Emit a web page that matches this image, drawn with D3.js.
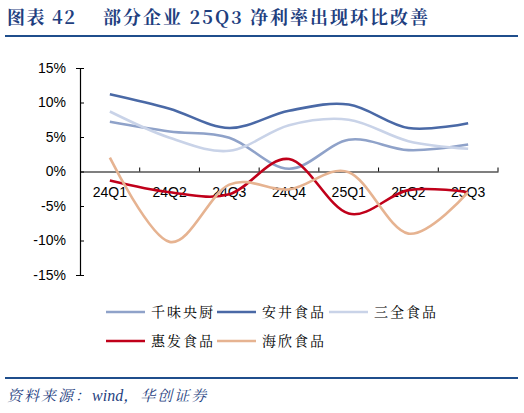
<!DOCTYPE html>
<html>
<head>
<meta charset="utf-8">
<script src="https://cdn.jsdelivr.net/npm/d3@7"></script>
<style>
  body { margin: 0; background: #fff; }
  svg { display: block; }
</style>
</head>
<body>
<div id="chart"></div>
<script>
var quarters = ["24Q1", "24Q2", "24Q3", "24Q4", "25Q1", "25Q2", "25Q3"];
var yTicks = [-15, -10, -5, 0, 5, 10, 15];

var qianwei = [7.2, 5.8, 4.9, 0.4, 4.6, 3.1, 3.9];
var anjing = [11.2, 9.1, 6.3, 8.8, 9.7, 6.3, 7.0];
var sanquan = [8.7, 4.9, 3.0, 6.7, 7.5, 4.4, 3.3];
var huifa = [-1.3, -3.0, -3.3, 1.8, -6.1, -2.7, -3.0];
var haixin = [2.0, -10.2, -1.9, -2.6, -0.1, -9.0, -3.0];

var names = ["千味央厨", "安井食品", "三全食品", "惠发食品", "海欣食品"];
var colors = ["#8FA2C9", "#4A69A6", "#C9D3E8", "#C0001A", "#E6B391"];

function init() {
    var w = 524;
    var h = 413;
    var seriesList = [qianwei, anjing, sanquan, huifa, haixin];
    var serif = "Noto Serif CJK SC, Noto Sans CJK SC, serif";

    var svg = d3.select("#chart")
        .append("svg")
        .attr("width", w)
        .attr("height", h);

    // title + rules
    svg.append("text")
        .attr("x", 7)
        .attr("y", 24)
        .attr("font-family", serif)
        .attr("font-weight", "bold")
        .attr("font-size", 18)
        .attr("letter-spacing", 1.5)
        .attr("fill", "#1F3F7F")
        .attr("xml:space", "preserve")
        .text("图表 42");

    svg.append("text")
        .attr("x", 103)
        .attr("y", 24)
        .attr("font-family", serif)
        .attr("font-weight", "bold")
        .attr("font-size", 18)
        .attr("letter-spacing", 2)
        .attr("fill", "#1F3F7F")
        .attr("xml:space", "preserve")
        .text("部分企业 25Q3 净利率出现环比改善");

    svg.append("line")
        .attr("x1", 5).attr("x2", 518)
        .attr("y1", 36).attr("y2", 36)
        .attr("stroke", "#1F4E8C").attr("stroke-width", 2);

    svg.append("line")
        .attr("x1", 5).attr("x2", 518)
        .attr("y1", 378).attr("y2", 378)
        .attr("stroke", "#1F4E8C").attr("stroke-width", 2);

    var src = svg.append("text")
        .attr("x", 7)
        .attr("y", 401)
        .attr("font-family", serif)
        .attr("font-style", "italic")
        .attr("font-size", 15)
        .attr("fill", "#1F3F7F");
    src.append("tspan").attr("letter-spacing", 2).text("资料来源：");
    src.append("tspan").attr("font-family", "Liberation Serif, serif").attr("font-size", 16).text("wind");
    src.append("tspan").attr("letter-spacing", 2).text("，华创证券");

    var x = d3.scaleBand()
        .domain(quarters)
        .range([80, 498]);

    var y = d3.scaleLinear()
        .domain([-15, 15])
        .range([275, 68]);

    // y axis
    var yAxis = svg.append("g")
        .attr("transform", "translate(80,0)")
        .call(d3.axisLeft(y)
            .tickValues(yTicks)
            .tickSize(4)
            .tickFormat(function(d) { return d + "%"; }));
    yAxis.select(".domain").attr("stroke", "#000").attr("stroke-width", 1.2);
    yAxis.selectAll(".tick line").attr("stroke", "#000").attr("x1", 0).attr("x2", 4);
    yAxis.selectAll(".tick text")
        .attr("x", -14)
        .attr("font-family", "Liberation Sans, Arial, sans-serif")
        .attr("font-size", 14)
        .attr("fill", "#000");

    // x axis at zero
    var xAxis = svg.append("g")
        .attr("transform", "translate(0," + y(0) + ")")
        .call(d3.axisBottom(x).tickSize(0).tickSizeOuter(0));
    xAxis.select(".domain").attr("stroke", "#000").attr("stroke-width", 1.2);
    xAxis.selectAll(".tick text")
        .attr("y", 16)
        .attr("font-family", "Liberation Sans, Arial, sans-serif")
        .attr("font-size", 14)
        .attr("fill", "#000");

    // band boundary ticks
    svg.selectAll("line.xtick")
        .data(quarters)
        .enter()
        .append("line")
        .attr("class", "xtick")
        .attr("x1", function(d) { return x(d) + x.bandwidth(); })
        .attr("x2", function(d) { return x(d) + x.bandwidth(); })
        .attr("y1", y(0))
        .attr("y2", y(0) - 4)
        .attr("stroke", "#000");

    var line = d3.line()
        .x(function(d, i) { return x(quarters[i]) + x.bandwidth() / 2; })
        .y(function(d) { return y(d); })
        .curve(d3.curveCatmullRom.alpha(0));

    svg.selectAll("path.series")
        .data(seriesList)
        .enter()
        .append("path")
        .attr("class", "series")
        .attr("d", line)
        .attr("fill", "none")
        .attr("stroke", function(d, i) { return colors[i]; })
        .attr("stroke-width", 2.6);

    // legend
    var legendPos = [[106, 312], [217, 312], [329, 312], [106, 341], [217, 341]];
    var legend = svg.selectAll("g.legend")
        .data(names)
        .enter()
        .append("g")
        .attr("class", "legend")
        .attr("transform", function(d, i) {
            return "translate(" + legendPos[i][0] + "," + legendPos[i][1] + ")";
        });

    legend.append("line")
        .attr("x1", 0).attr("x2", 39)
        .attr("y1", 0).attr("y2", 0)
        .attr("stroke", function(d, i) { return colors[i]; })
        .attr("stroke-width", 2.6);

    legend.append("text")
        .attr("x", 45)
        .attr("y", 5)
        .attr("font-family", serif)
        .attr("font-size", 14)
        .attr("letter-spacing", 2)
        .attr("fill", "#000")
        .text(function(d) { return d; });
}

window.onload = init;
</script>
</body>
</html>
